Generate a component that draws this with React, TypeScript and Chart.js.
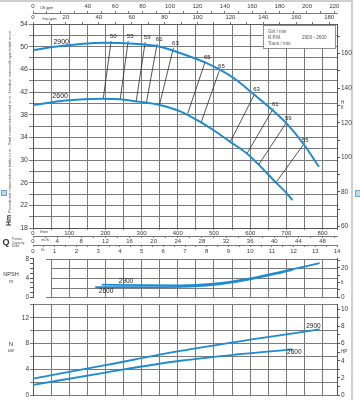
import React, { useEffect, useRef } from "react";
import { Chart, registerables } from "chart.js";

Chart.register(...registerables);

// ---------------- data ----------------
const Q_MAX_LMIN = 840; // x range of every panel, l/min

const SPEEDS = ["2900", "2600"];

// Head curves (Q l/min -> H m)
const HEAD_Q_2900 = [0, 60, 120, 200, 280, 350, 410, 480, 520, 560, 610, 660, 700, 750, 790];
const HEAD_2900 = [49.4, 50.0, 50.4, 50.7, 50.5, 50.0, 48.8, 47.1, 45.8, 44.2, 41.6, 38.9, 36.5, 32.6, 28.8];
const HEAD_Q_2600 = [0, 90, 190, 240, 290, 350, 410, 460, 500, 545, 590, 625, 670, 700, 717];
const HEAD_2600 = [39.7, 40.5, 40.8, 40.7, 40.3, 39.7, 38.5, 36.8, 35.2, 33.2, 31.2, 29.1, 26.1, 24.2, 22.9];

// Iso-efficiency segments (%), from the 2900 curve down to the 2600 curve
const EFF_LABELS = ["50", "55", "59", "61", "63", "65", "65", "63", "61", "59", "55"];
const EFF_Q_TOP = [216, 263, 310, 343, 388, 476, 515, 612, 664, 700, 747];
const EFF_H_TOP = [51.0, 51.0, 50.8, 50.5, 49.8, 47.4, 45.8, 41.6, 39.1, 36.6, 32.7];
const EFF_Q_BOT = [194, 241, 285, 313, 349, 426, 465, 545, 592, 623, 670];
const EFF_H_BOT = [40.8, 40.7, 40.3, 40.0, 39.6, 37.9, 36.7, 33.2, 31.2, 29.1, 25.9];

// NPSH curves (Q l/min -> m)
const NPSH_Q_2900 = [190, 300, 407, 500, 592, 684, 792];
const NPSH_2900 = [2.6, 2.5, 2.45, 2.8, 3.8, 5.3, 7.1];
const NPSH_Q_2600 = [172, 300, 407, 500, 592, 684, 717];
const NPSH_2600 = [2.1, 2.1, 2.15, 2.55, 3.6, 5.1, 5.7];

// Power curves (Q l/min -> kW)
const POWER_Q_2900 = [0, 200, 407, 600, 792];
const POWER_2900 = [2.56, 4.65, 6.86, 8.6, 10.2];
const POWER_Q_2600 = [0, 200, 407, 560, 717];
const POWER_2600 = [1.58, 3.5, 5.33, 6.3, 7.1];

// Tick labels
const US_GPM_TICKS = [0, 40, 60, 80, 100, 120, 140, 160, 180, 200, 220];
const IMP_GPM_TICKS = [0, 20, 40, 60, 80, 100, 120, 140, 160, 180];
const LMIN_TICKS = [0, 100, 200, 300, 400, 500, 600, 700, 800];
const M3H_TICKS = [0, 4, 8, 12, 16, 20, 24, 28, 32, 36, 40, 44, 48];
const LS_TICKS = [0, 1, 2, 3, 4, 5, 6, 7, 8, 9, 10, 11, 12, 13, 14];
const HEAD_M_TICKS = [18, 22, 26, 30, 34, 38, 42, 46, 50, 54];
const HEAD_FT_TICKS = [60, 80, 100, 120, 140, 160];
const NPSH_M_TICKS = [0, 4, 8];
const NPSH_FT_TICKS = [0, 20];
const POWER_KW_TICKS = [0, 4, 8, 12];
const POWER_HP_TICKS = [0, 2, 4, 6, 8, 10];

const HEAD_TITLE =
  "Prevalenza manometrica totale in m - Total manometric head in m - Hauteur manométrique totale en m";

// unit conversions
const M_TO_FT = 3.28084;
const LMIN_PER_USGPM = 3.78541;
const LMIN_PER_IMPGPM = 4.54609;
const LMIN_PER_M3H = 16.6667;
const LMIN_PER_LS = 60;

// ---------------- styles ----------------
const FONT = "'Liberation Sans', Arial, sans-serif";
const BLUE = "#1d8bd4";
const GRID = "#7a7a7a";
const AXIS = "#555555";
const TEXT = "#3a3a3a";
const CLEAR = "rgba(0,0,0,0)";

const pts = (xs: number[], ys: number[]) => xs.map((x, i) => ({ x, y: ys[i] }));

function range(from: number, to: number, step: number) {
  const out: number[] = [];
  for (let v = from; v <= to + 1e-9; v += step) out.push(Math.round(v * 1000) / 1000);
  return out;
}

const uniqSorted = (a: number[]) => Array.from(new Set(a)).sort((p, q) => p - q);

type AuxOpts = {
  position: "top" | "bottom";
  max: number;
  labels: number[];
  minor: number;
  unit: string;
  unitAt: number;
  size: number;
  weight: number;
  tick: number;
  pad: number;
};

function auxAxis(o: AuxOpts) {
  const grid = range(0, o.max, o.minor);
  const values = uniqSorted([...grid, ...o.labels, o.unitAt]);
  const unitOnGrid = grid.includes(o.unitAt);
  return {
    type: "linear",
    position: o.position,
    min: 0,
    max: o.max,
    weight: o.weight,
    afterBuildTicks: (s: any) => {
      s.ticks = values.map((v) => ({ value: v }));
    },
    afterFit: (s: any) => {
      s.height = o.size;
    },
    grid: {
      drawOnChartArea: false,
      drawTicks: true,
      tickLength: o.tick,
      lineWidth: 0.8,
      color: (c: any) => (c.tick && c.tick.value === o.unitAt && !unitOnGrid ? CLEAR : AXIS),
    },
    border: { display: true, color: AXIS, width: 0.8 },
    ticks: {
      autoSkip: false,
      maxRotation: 0,
      minRotation: 0,
      padding: o.pad,
      color: TEXT,
      callback: (v: number) => (v === o.unitAt ? o.unit : o.labels.includes(v) ? String(v) : ""),
      font: (c: any) => ({ family: FONT, size: c.tick && c.tick.value === o.unitAt ? 3.6 : 6 }),
    },
  };
}

type YOpts = {
  position: "left" | "right";
  min: number;
  max: number;
  values: number[];
  label: (v: number) => string | string[];
  onArea: boolean;
  tick: number;
  size: number;
  width: number;
  smallAt?: number;
};

function yAxis(o: YOpts) {
  return {
    type: "linear",
    position: o.position,
    min: o.min,
    max: o.max,
    afterBuildTicks: (s: any) => {
      s.ticks = o.values.map((v) => ({ value: v }));
    },
    afterFit: (s: any) => {
      s.width = o.width;
    },
    grid: {
      drawOnChartArea: o.onArea,
      drawTicks: true,
      tickLength: o.tick,
      lineWidth: 1,
      color: o.onArea ? GRID : AXIS,
    },
    border: { display: true, color: AXIS, width: 1 },
    ticks: {
      autoSkip: false,
      padding: 1,
      color: TEXT,
      callback: (v: number) => o.label(v),
      font: (c: any) => ({
        family: FONT,
        size: o.smallAt !== undefined && c.tick && c.tick.value === o.smallAt ? 4.5 : o.size,
      }),
    },
  };
}

function flowGridAxis(withLabels: boolean) {
  const values = withLabels
    ? uniqSorted([...range(0, 800, 50), Q_MAX_LMIN, 30])
    : range(50, 800, 50);
  return {
    type: "linear",
    position: "bottom",
    min: 0,
    max: Q_MAX_LMIN,
    weight: 0,
    afterBuildTicks: (s: any) => {
      s.ticks = values.map((v) => ({ value: v }));
    },
    afterFit: (s: any) => {
      s.height = withLabels ? 8 : 0;
    },
    grid: {
      drawOnChartArea: true,
      drawTicks: withLabels,
      tickLength: 2,
      lineWidth: 1,
      color: (c: any) => (c.tick && c.tick.value === 30 ? CLEAR : GRID),
    },
    border: { display: withLabels, color: AXIS, width: 1 },
    ticks: {
      display: withLabels,
      autoSkip: false,
      maxRotation: 0,
      minRotation: 0,
      padding: 0,
      color: TEXT,
      callback: (v: number) => (v === 30 ? "l/min" : LMIN_TICKS.includes(v) ? String(v) : ""),
      font: (c: any) => ({ family: FONT, size: c.tick && c.tick.value === 30 ? 3.6 : 6 }),
    },
  };
}

const curve = (data: { x: number; y: number }[], width = 2) => ({
  data,
  borderColor: BLUE,
  backgroundColor: BLUE,
  borderWidth: width,
  pointRadius: 0,
  fill: false,
  cubicInterpolationMode: "monotone",
});

const baseOptions = (padding: any) => ({
  animation: false,
  responsive: false,
  devicePixelRatio: 1,
  events: [],
  layout: { padding },
  plugins: { legend: { display: false }, tooltip: { enabled: false }, title: { display: false } },
});

function label(ctx: CanvasRenderingContext2D, s: string, x: number, y: number, size: number, color = "#222") {
  ctx.font = `${size}px ${FONT}`;
  ctx.fillStyle = color;
  ctx.textAlign = "center";
  ctx.textBaseline = "middle";
  ctx.fillText(s, x, y);
}

// ---------------- main head chart ----------------
function configA(): any {
  const decor = {
    id: "decorA",
    afterDatasetsDraw(chart: any) {
      const { ctx, chartArea: a, scales } = chart;
      const xs = scales.x;
      const ys = scales.y;
      ctx.save();
      EFF_LABELS.forEach((lab, i) => {
        const p = chart.getDatasetMeta(2 + i).data[0];
        label(ctx, lab, p.x + 2, p.y - 4.5, 6);
      });
      label(ctx, SPEEDS[0], xs.getPixelForValue(78), ys.getPixelForValue(50.9), 7);
      label(ctx, SPEEDS[1], xs.getPixelForValue(75), ys.getPixelForValue(41.2), 7);

      // speed box
      const bx = a.right - 74;
      const by = a.top + 1;
      ctx.fillStyle = "#fff";
      ctx.fillRect(bx, by, 72, 23);
      ctx.strokeStyle = "#777";
      ctx.lineWidth = 0.8;
      ctx.strokeRect(bx + 0.5, by + 0.5, 72, 23);
      ctx.fillStyle = "#555";
      ctx.font = `4.6px ${FONT}`;
      ctx.textAlign = "left";
      ctx.textBaseline = "middle";
      ctx.fillText("Giri / min", bx + 5, by + 7);
      ctx.fillText("R.P.M.", bx + 5, by + 13);
      ctx.fillText("Tours / min", bx + 5, by + 19);
      ctx.fillText(`${SPEEDS[0]} - ${SPEEDS[1]}`, bx + 39, by + 13);

      // left vertical title
      ctx.save();
      ctx.translate(9, a.bottom - 2);
      ctx.rotate(-Math.PI / 2);
      ctx.textAlign = "left";
      ctx.textBaseline = "middle";
      ctx.fillStyle = "#333";
      ctx.font = `bold 7px ${FONT}`;
      ctx.fillText("Hm", 0, 0);
      const w = ctx.measureText("Hm").width;
      ctx.font = `4px ${FONT}`;
      ctx.fillStyle = "#555";
      ctx.fillText(HEAD_TITLE, w + 2, 0.5);
      ctx.restore();

      // Q block
      ctx.fillStyle = "#333";
      ctx.font = `bold 9px ${FONT}`;
      ctx.textAlign = "center";
      ctx.fillText("Q", 6, 243);
      ctx.font = `3.2px ${FONT}`;
      ctx.fillStyle = "#555";
      ctx.textAlign = "left";
      ctx.fillText("Portata", 12, 239.5);
      ctx.fillText("Capacity", 12, 243);
      ctx.fillText("Débit", 12, 246.5);
      ctx.restore();
    },
  };

  return {
    type: "line",
    data: {
      datasets: [
        curve(pts(HEAD_Q_2900, HEAD_2900)),
        curve(pts(HEAD_Q_2600, HEAD_2600)),
        ...EFF_LABELS.map((_, i) => ({
          data: [
            { x: EFF_Q_TOP[i], y: EFF_H_TOP[i] },
            { x: EFF_Q_BOT[i], y: EFF_H_BOT[i] },
          ],
          borderColor: "#2a2a2a",
          borderWidth: 0.8,
          pointRadius: 0,
          fill: false,
        })),
      ],
    },
    options: {
      ...baseOptions({ top: 0, bottom: 0, left: 0, right: 0 }),
      scales: {
        x: flowGridAxis(true),
        m3h: auxAxis({
          position: "bottom", max: Q_MAX_LMIN / LMIN_PER_M3H, labels: M3H_TICKS, minor: 2,
          unit: "m³/h", unitAt: 2, size: 9, weight: 1, tick: 2, pad: 0,
        }),
        ls: auxAxis({
          position: "bottom", max: Q_MAX_LMIN / LMIN_PER_LS, labels: LS_TICKS, minor: 0.5,
          unit: "l/s", unitAt: 0.45, size: 13, weight: 2, tick: 2, pad: 1,
        }),
        us: auxAxis({
          position: "top", max: Q_MAX_LMIN / LMIN_PER_USGPM, labels: US_GPM_TICKS, minor: 10,
          unit: "US gpm", unitAt: 10, size: 13, weight: 2, tick: 2, pad: 1,
        }),
        imp: auxAxis({
          position: "top", max: Q_MAX_LMIN / LMIN_PER_IMPGPM, labels: IMP_GPM_TICKS, minor: 10,
          unit: "Imp gpm", unitAt: 10, size: 11, weight: 1, tick: 2, pad: 1,
        }),
        y: yAxis({
          position: "left", min: 18, max: 54, values: range(18, 54, 2),
          label: (v) => (HEAD_M_TICKS.includes(v) ? String(v) : ""),
          onArea: true, tick: 4, size: 7, width: 33,
        }),
        yft: yAxis({
          position: "right", min: 18 * M_TO_FT, max: 54 * M_TO_FT, values: range(60, 170, 10),
          label: (v) => (v === 130 ? ["H", "ft"] : HEAD_FT_TICKS.includes(v) ? String(v) : ""),
          onArea: false, tick: 3, size: 6.5, width: 23, smallAt: 130,
        }),
      },
    },
    plugins: [decor],
  };
}

// ---------------- NPSH chart ----------------
function configB(): any {
  const decor = {
    id: "decorB",
    beforeDatasetsDraw(chart: any) {
      const { ctx, chartArea: a, scales } = chart;
      const xs = scales.x;
      const ys = scales.y;
      ctx.save();
      ctx.strokeStyle = GRID;
      ctx.lineWidth = 1;
      [0, 2, 4, 6, 8].forEach((v) => {
        const y = Math.round(ys.getPixelForValue(v)) + 0.5;
        const x0 = xs.getPixelForValue(50) - (v === 0 || v === 8 ? 5 : 0);
        ctx.beginPath();
        ctx.moveTo(x0, y);
        ctx.lineTo(a.right, y);
        ctx.stroke();
      });
      ctx.restore();
    },
    afterDatasetsDraw(chart: any) {
      const { ctx, scales } = chart;
      const xs = scales.x;
      const ys = scales.y;
      ctx.save();
      label(ctx, SPEEDS[0], xs.getPixelForValue(257), ys.getPixelForValue(3.3), 6.5);
      label(ctx, SPEEDS[1], xs.getPixelForValue(202), ys.getPixelForValue(1.2), 6.5);
      label(ctx, "NPSH", 11, ys.getPixelForValue(4.7), 5.5, "#333");
      label(ctx, "m", 11, ys.getPixelForValue(3.3), 4.5, "#333");
      ctx.restore();
    },
  };
  return {
    type: "line",
    data: {
      datasets: [
        curve(pts(NPSH_Q_2900, NPSH_2900), 1.8),
        curve(pts(NPSH_Q_2600, NPSH_2600), 1.8),
      ],
    },
    options: {
      ...baseOptions({ top: 4, bottom: 3, left: 0, right: 0 }),
      scales: {
        x: flowGridAxis(false),
        y: yAxis({
          position: "left", min: 0, max: 8, values: range(0, 8, 1),
          label: (v) => (NPSH_M_TICKS.includes(v) ? String(v) : ""),
          onArea: false, tick: 3, size: 6.5, width: 33,
        }),
        yft: yAxis({
          position: "right", min: 0, max: 8 * M_TO_FT, values: range(0, 25, 5),
          label: (v) => (v === 10 ? "ft" : NPSH_FT_TICKS.includes(v) ? String(v) : ""),
          onArea: false, tick: 3, size: 6.5, width: 23, smallAt: 10,
        }),
      },
    },
    plugins: [decor],
  };
}

// ---------------- power chart ----------------
function configC(): any {
  const decor = {
    id: "decorC",
    afterDatasetsDraw(chart: any) {
      const { ctx, scales } = chart;
      const xs = scales.x;
      const ys = scales.y;
      ctx.save();
      label(ctx, SPEEDS[0], xs.getPixelForValue(775), ys.getPixelForValue(10.7), 6.5);
      label(ctx, SPEEDS[1], xs.getPixelForValue(722), ys.getPixelForValue(6.7), 6.5);
      label(ctx, "N", 11, ys.getPixelForValue(7.9), 6, "#333");
      label(ctx, "kW", 11, ys.getPixelForValue(6.85), 4, "#333");
      ctx.restore();
    },
  };
  return {
    type: "line",
    data: {
      datasets: [
        curve(pts(POWER_Q_2900, POWER_2900), 1.8),
        curve(pts(POWER_Q_2600, POWER_2600), 1.8),
      ],
    },
    options: {
      ...baseOptions({ top: 4, bottom: 2, left: 0, right: 0 }),
      scales: {
        x: flowGridAxis(false),
        y: yAxis({
          position: "left", min: 0, max: 14, values: range(0, 14, 2),
          label: (v) => (POWER_KW_TICKS.includes(v) ? String(v) : ""),
          onArea: true, tick: 3, size: 6.5, width: 33,
        }),
        yhp: yAxis({
          position: "right", min: 0, max: 10.5, values: range(0, 10, 1),
          label: (v) => (v === 5 ? "HP" : POWER_HP_TICKS.includes(v) ? String(v) : ""),
          onArea: false, tick: 3, size: 6.5, width: 23, smallAt: 5,
        }),
      },
    },
    plugins: [decor],
  };
}

export default function App() {
  const aRef = useRef<HTMLCanvasElement>(null);
  const bRef = useRef<HTMLCanvasElement>(null);
  const cRef = useRef<HTMLCanvasElement>(null);

  useEffect(() => {
    const charts = [
      new Chart(aRef.current as HTMLCanvasElement, configA()),
      new Chart(bRef.current as HTMLCanvasElement, configB()),
      new Chart(cRef.current as HTMLCanvasElement, configC()),
    ];
    return () => charts.forEach((c) => c.destroy());
  }, []);

  const abs = (top: number, h: number): React.CSSProperties => ({
    position: "absolute",
    left: 0,
    top,
    width: 360,
    height: h,
  });

  return (
    <div style={{ position: "fixed", left: 0, top: 0, width: 360, height: 400, background: "#fff", overflow: "hidden" }}>
      <div
        style={{
          position: "absolute", left: 0, top: 0, width: 353, height: 400,
          borderTop: "2px solid #cfcfcf", borderRight: "2px solid #cfcfcf", boxSizing: "border-box",
        }}
      />
      <canvas ref={aRef} width={360} height={258} style={abs(0, 258)} />
      <canvas ref={bRef} width={360} height={48} style={abs(254, 48)} />
      <canvas ref={cRef} width={360} height={100} style={abs(300, 100)} />
      <div style={{ position: "absolute", left: 1, top: 190, width: 4, height: 4, background: "#bcd7ee", border: "1px solid #6fa3d0" }} />
      <div style={{ position: "absolute", left: 355, top: 190, width: 4, height: 5, background: "#bcd7ee", border: "1px solid #6fa3d0" }} />
    </div>
  );
}
